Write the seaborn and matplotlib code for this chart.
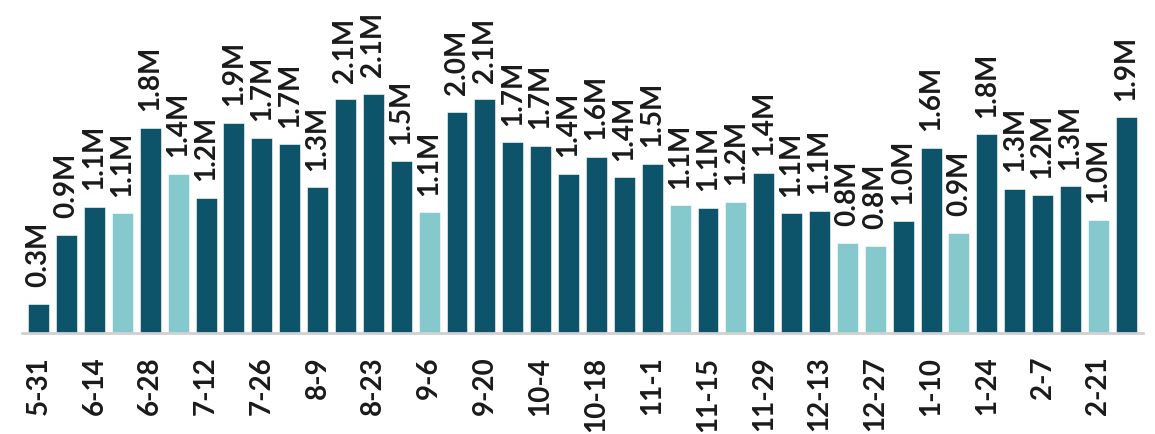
import matplotlib
matplotlib.use('Agg')
import matplotlib.pyplot as plt
import seaborn as sns
import pandas as pd

# weekly values (millions)
weeks = ['5-31', '6-7', '6-14', '6-21', '6-28', '7-5', '7-12', '7-19', '7-26', '8-2',
         '8-9', '8-16', '8-23', '8-30', '9-6', '9-13', '9-20', '9-27', '10-4', '10-11',
         '10-18', '10-25', '11-1', '11-8', '11-15', '11-22', '11-29', '12-6', '12-13', '12-20',
         '12-27', '1-3', '1-10', '1-17', '1-24', '1-31', '2-7', '2-14', '2-21', '2-28']
values = [0.26, 0.87, 1.12, 1.06, 1.82, 1.41, 1.2, 1.86, 1.73, 1.67,
          1.29, 2.07, 2.12, 1.52, 1.07, 1.96, 2.07, 1.69, 1.66, 1.41,
          1.56, 1.38, 1.5, 1.13, 1.11, 1.16, 1.42, 1.06, 1.08, 0.8,
          0.77, 0.99, 1.64, 0.89, 1.76, 1.28, 1.22, 1.3, 1.0, 1.91]
light = [4, 6, 15, 24, 26, 30, 31, 34, 39]  # 1-based index of light bars
kind = ['light' if i + 1 in light else 'dark' for i in range(len(weeks))]

df = pd.DataFrame({'week': weeks, 'value': values, 'kind': kind})
palette = {'dark': '#0d546a', 'light': '#85c9cc'}

sns.set_style('white')
plt.rcParams['font.family'] = ['Lato', 'DejaVu Sans']

fig = plt.figure(figsize=(11.55, 4.34), dpi=100)
ax = fig.add_axes([22 / 1155, 1 - 333 / 434, 1121 / 1155, 333 / 434])

sns.barplot(data=df, x='week', y='value', hue='kind', palette=palette, dodge=False,
            width=0.75, saturation=1, legend=False, ax=ax, edgecolor='white', linewidth=0.4)

ax.set_xlim(-0.6, len(weeks) - 0.4)
ax.set_ylim(0, 2.95)

for i, v in enumerate(values):
    ax.annotate(f'{v:.1f}M', (i, v), xytext=(0, 12), textcoords='offset points',
                rotation=90, ha='center', va='bottom', fontsize=20, fontweight='bold',
                color='#1a1a1a')

ax.set_xticks(range(0, len(weeks), 2))
ax.set_xticklabels(weeks[::2], rotation=90, fontsize=20, fontweight='bold', color='#1a1a1a')
ax.set_xticks([i - 0.5 for i in range(len(weeks) + 1)], minor=True)
ax.tick_params(axis='x', which='major', length=0, pad=17)
ax.tick_params(axis='x', which='minor', length=10, width=1.5, color='#d0d0d0', direction='out')
ax.set_yticks([])
ax.set_xlabel('')
ax.set_ylabel('')
for s in ['top', 'right', 'left']:
    ax.spines[s].set_visible(False)
ax.spines['bottom'].set_color('#d0d0d0')
ax.spines['bottom'].set_linewidth(2)

fig.savefig('out.png', dpi=100)
